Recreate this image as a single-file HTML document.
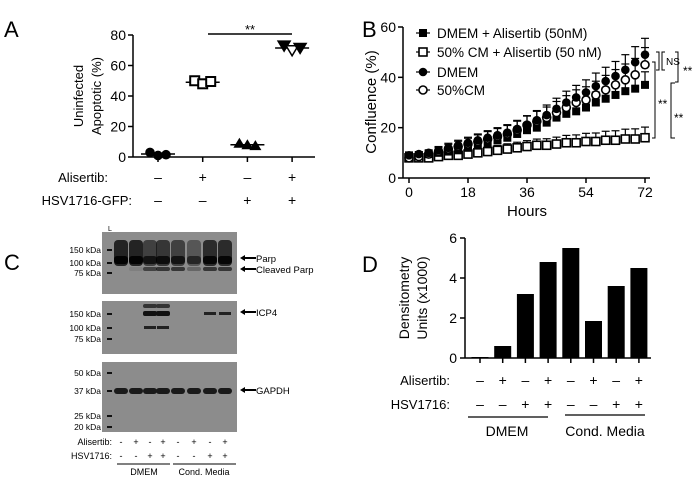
<!DOCTYPE html>
<html><head><meta charset="utf-8"><style>
html,body{margin:0;padding:0;background:#fff;width:700px;height:487px;overflow:hidden}
svg{display:block;font-family:"Liberation Sans",Arial,sans-serif}
</style></head><body>
<svg id="fig" width="700" height="487" viewBox="0 0 700 487" xmlns="http://www.w3.org/2000/svg">
<g id="pA"></g>
<g id="pB"></g>
<g id="pC"></g>
<g id="pD"></g>
</svg>
<script>
// Panel A data
const aCats = [0,1,2,3];
const aPoints = [[3,1,1.5],[50,48,49.5],[9,8,7.5],[73,70,71.5]];
const aMeans = [2,49,8,71.5];
const aTicks = [0,20,40,60,80];
const aAlis = ["–","+","–","+"];
const aHsv = ["–","–","+","+"];
// Panel B data
const bHours = [0,3,6,9,12,15,18,21,24,27,30,33,36,39,42,45,48,51,54,57,60,63,66,69,72];
const bDmemAlis = [9,9,9.5,10,10.5,11,12,13,14,15,16,17.5,19,20,22,24,25.5,26.5,28,30,31.5,33,34.5,35.5,37];
const bCmAlis = [8,8,8,8.5,9,9,9.5,10,10.5,11,11.5,12,12.5,13,13,13.5,14,14,14.5,14.5,15,15,15.5,15.5,16];
const bDmem = [9,9.5,10,11,12,13,14,15,16,17,18,19.5,21,23,25,27.5,30,32,34,36.5,38.5,40.5,43,46,49];
const bCm = [8,8.5,9.5,10.5,11.5,12.5,13.5,14.5,15.5,16.5,17.5,19,21,22.5,24,26,28,30,31,33,35,37,39,41,45];
const bErr = [1,1,1.2,1.5,1.8,2,2.2,2.5,2.8,3,3.2,3.4,3.6,3.8,4,4.2,4.5,4.8,5,5.2,5.5,5.8,6,6.2,6.5];
const bXTicks = [0,18,36,54,72];
const bYTicks = [0,20,40,60];
// Panel D data
const dValues = [0.05,0.6,3.2,4.8,5.5,1.85,3.6,4.5];
const dTicks = [0,2,4,6];
const dAlis = ["–","+","–","+","–","+","–","+"];
const dHsv = ["–","–","+","+","–","–","+","+"];
// Panel C labels
const cAlis = ["-","+","-","+","-","+","-","+"];
const cHsv = ["-","-","+","+","-","-","+","+"];

const NS="http://www.w3.org/2000/svg";
function mk(parent,tag,attrs,text){const e=document.createElementNS(NS,tag);for(const k in attrs)e.setAttribute(k,attrs[k]);if(text!==undefined)e.textContent=text;parent.appendChild(e);return e;}

// ===== Panel A =====
const A=document.getElementById('pA');
const ax=i=>158+i*44.7, ay=v=>157-v*(122/80);
let t=mk(A,'text',{x:4,y:37,'font-size':22},'A');

let l=mk(A,'line',{x1:133,y1:35,x2:133,y2:157,stroke:'#000','stroke-width':1.5});

l=mk(A,'line',{x1:133,y1:157,x2:315,y2:157,stroke:'#000','stroke-width':1.5});

aTicks.forEach(v=>{mk(A,'line',{x1:128,x2:133,y1:ay(v),y2:ay(v),stroke:'#000','stroke-width':1.5});
 t=mk(A,'text',{x:126,y:ay(v)+5,'text-anchor':'end','font-size':14},v);
 });
aCats.forEach(i=>mk(A,'line',{x1:ax(i),x2:ax(i),y1:157,y2:162,stroke:'#000','stroke-width':1.5}));
t=mk(A,'text',{transform:'translate(83,96) rotate(-90)','text-anchor':'middle','font-size':13},'Uninfected');

t=mk(A,'text',{transform:'translate(101,96) rotate(-90)','text-anchor':'middle','font-size':13},'Apoptotic (%)');

aPoints.forEach((pts,i)=>{
 const g=mk(A,'g',{});
 mk(g,'line',{x1:ax(i)-17,x2:ax(i)+17,y1:ay(aMeans[i]),y2:ay(aMeans[i]),stroke:'#000','stroke-width':1.5});
 pts.forEach((v,j)=>{const x=ax(i)-8+j*8,y=ay(v);let m;
  if(i===0)m=mk(g,'circle',{cx:x,cy:y,r:4.8,fill:'#000'});
  else if(i===1)m=mk(g,'rect',{x:x-4.5,y:y-4.5,width:9,height:9,fill:'#fff',stroke:'#000','stroke-width':2});
  else if(i===2)m=mk(g,'path',{d:`M${x-6} ${y+4.5}L${x+6} ${y+4.5}L${x} ${y-5.5}Z`,fill:'#000'});
  else m=mk(g,'path',{d:`M${x-6} ${y-4.5}L${x+6} ${y-4.5}L${x} ${y+5.5}Z`,fill:j===1?'#fff':'#000',stroke:'#000','stroke-width':1.5});
  });
});
l=mk(A,'line',{x1:208,x2:292,y1:34,y2:34,stroke:'#000','stroke-width':1.5});

t=mk(A,'text',{x:250,y:34,'text-anchor':'middle','font-size':13},'**');

t=mk(A,'text',{x:108,y:182,'text-anchor':'end','font-size':13},'Alisertib:');

t=mk(A,'text',{x:132,y:205,'text-anchor':'end','font-size':13},'HSV1716-GFP:');

aCats.forEach(i=>{t=mk(A,'text',{x:ax(i),y:182,'text-anchor':'middle','font-size':14},aAlis[i]);
 
 t=mk(A,'text',{x:ax(i),y:205,'text-anchor':'middle','font-size':14},aHsv[i]);
 });

// ===== Panel B =====
const B=document.getElementById('pB');
const bx=h=>409+h*(236/72), by=v=>178-v*(151/60);
t=mk(B,'text',{x:362,y:37,'font-size':22},'B');

l=mk(B,'line',{x1:403,y1:27,x2:403,y2:178,stroke:'#000','stroke-width':1.5});

l=mk(B,'line',{x1:403,y1:178,x2:650,y2:178,stroke:'#000','stroke-width':1.5});

bYTicks.forEach(v=>{mk(B,'line',{x1:398,x2:403,y1:by(v),y2:by(v),stroke:'#000','stroke-width':1.5});
 t=mk(B,'text',{x:396,y:by(v)+5,'text-anchor':'end','font-size':14},v);
 });
bXTicks.forEach(v=>{mk(B,'line',{x1:bx(v),x2:bx(v),y1:178,y2:183,stroke:'#000','stroke-width':1.5});
 t=mk(B,'text',{x:bx(v),y:197,'text-anchor':'middle','font-size':14},v);
 });
t=mk(B,'text',{x:527,y:216,'text-anchor':'middle','font-size':15},'Hours');

t=mk(B,'text',{transform:'translate(376,102) rotate(-90)','text-anchor':'middle','font-size':15},'Confluence (%)');

function marker(g,kind,x,y){let m;
 if(kind==='fs')m=mk(g,'rect',{x:x-4,y:y-4,width:8,height:8,fill:'#000'});
 else if(kind==='os')m=mk(g,'rect',{x:x-4,y:y-4,width:8,height:8,fill:'#fff',stroke:'#000','stroke-width':1.6});
 else if(kind==='fc')m=mk(g,'circle',{cx:x,cy:y,r:4.3,fill:'#000'});
 else m=mk(g,'circle',{cx:x,cy:y,r:4,fill:'#fff',stroke:'#000','stroke-width':1.6});
 return m;}
const series=[[bCmAlis,'os',0.65],[bDmemAlis,'fs',0.8],[bCm,'oc',1.05],[bDmem,'fc',1.0]];
series.forEach(([vals,kind,ef],si)=>{
 const g=mk(B,'g',{});
 vals.forEach((v,i)=>{const x=bx(bHours[i]),y=by(v),e=bErr[i]*ef;
  const ye=by(v+e);
  mk(g,'line',{x1:x,x2:x,y1:y,y2:ye,stroke:'#000','stroke-width':1.2});
  mk(g,'line',{x1:x-4,x2:x+4,y1:ye,y2:ye,stroke:'#000','stroke-width':1.2});
  const m=marker(g,kind,x,y);
  });
});
const legend=[['fs','DMEM + Alisertib  (50nM)',33],['os','50% CM + Alisertib (50 nM)',52],['fc','DMEM',72],['oc','50%CM',90]];
legend.forEach(([k,txt,y])=>{const g=mk(B,'g',{});
 
 mk(g,'line',{x1:416,x2:430,y1:y,y2:y,stroke:'#000','stroke-width':1.2});marker(g,k,423,y);
 mk(g,'text',{x:437,y:y+5,'font-size':13.5},txt);});
function bracket(x,y1,y2,dir){return mk(B,'path',{d:`M${x-dir*3} ${y1}H${x}V${y2}H${x-dir*3}`,fill:'none',stroke:'#000','stroke-width':1});}
bracket(662,52,70,-1);bracket(659,52,70,1);
l=bracket(678,52,82,1);
t=mk(B,'text',{x:666,y:65,'font-size':10},'NS');
t=mk(B,'text',{x:683,y:75,'font-size':12},'**');
bracket(655,62,138,1);
t=mk(B,'text',{x:658,y:108,'font-size':12},'**');
l=mk(B,'path',{d:'M675 83H671V138H675',fill:'none',stroke:'#000','stroke-width':1});
t=mk(B,'text',{x:674,y:122,'font-size':12},'**');

// ===== Panel C =====
const C=document.getElementById('pC');
const lanes=[121,136,150,163,178,194,210,225];
t=mk(C,'text',{x:4,y:270,'font-size':22},'C');

t=mk(C,'text',{x:108,y:231,'font-size':7},'L');
const blots=[[102,232,135,62,'parp-blot'],[102,301,135,53,'icp4-blot'],[102,362,135,70,'gapdh-blot']];
blots.forEach(b=>{const r=mk(C,'rect',{x:b[0],y:b[1],width:b[2],height:b[3],fill:'#8c8c8c'});
 });
const markers=[['150 kDa',250],['100 kDa',263],['75 kDa',273],['150 kDa',314],['100 kDa',328],['75 kDa',339],['50 kDa',373],['37 kDa',391],['25 kDa',416],['20 kDa',427]];
markers.forEach(([s,y])=>{t=mk(C,'text',{x:101,y:y+3,'text-anchor':'end','font-size':8.5},s);
 
 mk(C,'rect',{x:107,y:y-1,width:5,height:2,fill:'#111'});});
const parpI=[1,1,0.6,0.75,0.6,0.3,0.9,0.9], clvI=[0,0.1,0.6,0.7,0.7,0.3,0.7,0.7];
lanes.forEach((x,i)=>{mk(C,'rect',{x:x-7,y:240,width:14,height:26,rx:4,fill:'#111','fill-opacity':0.25+0.6*parpI[i]});
 mk(C,'rect',{x:x-7,y:256,width:14,height:8,rx:3,fill:'#000','fill-opacity':0.4+0.5*parpI[i]});
 mk(C,'rect',{x:x-7,y:267,width:14,height:4,rx:2,fill:'#111','fill-opacity':clvI[i]});
 mk(C,'rect',{x:x-7,y:388,width:14,height:6,rx:3,fill:'#1a1a1a'});});
[150,163].forEach(x=>{mk(C,'rect',{x:x-7,y:311,width:14,height:5,rx:2,fill:'#111'});mk(C,'rect',{x:x-7,y:304,width:14,height:4,rx:2,fill:'#333'});mk(C,'rect',{x:x-6,y:326,width:12,height:3,fill:'#222'});});
[210,225].forEach(x=>mk(C,'rect',{x:x-6,y:312,width:12,height:3,fill:'#222'}));
const arrows=[['Parp',258],['Cleaved Parp',269],['ICP4',312],['GAPDH',390]];
arrows.forEach(([s,y])=>{const g=mk(C,'g',{});
 mk(g,'path',{d:`M240 ${y}L245 ${y-3}V${y-1}H256V${y+1}H245V${y+3}Z`,fill:'#000'});
 mk(g,'text',{x:256,y:y+4,'font-size':9.5},s);});
t=mk(C,'text',{x:112,y:445,'text-anchor':'end','font-size':9},'Alisertib:');
t=mk(C,'text',{x:112,y:459,'text-anchor':'end','font-size':9},'HSV1716:');
lanes.forEach((x,i)=>{t=mk(C,'text',{x:x,y:445,'text-anchor':'middle','font-size':9},cAlis[i]);
 t=mk(C,'text',{x:x,y:459,'text-anchor':'middle','font-size':9},cHsv[i]);});
mk(C,'line',{x1:117,x2:170,y1:464,y2:464,stroke:'#000'});mk(C,'line',{x1:173,x2:236,y1:464,y2:464,stroke:'#000'});
t=mk(C,'text',{x:144,y:475,'text-anchor':'middle','font-size':9},'DMEM');
t=mk(C,'text',{x:204,y:475,'text-anchor':'middle','font-size':9},'Cond. Media');

// ===== Panel D =====
const D=document.getElementById('pD');
const dx=i=>480+i*22.7, dy=v=>358-v*20;
t=mk(D,'text',{x:362,y:272,'font-size':22},'D');
l=mk(D,'line',{x1:465,y1:238,x2:465,y2:358,stroke:'#000','stroke-width':1.5});
dTicks.forEach(v=>{mk(D,'line',{x1:460,x2:465,y1:dy(v),y2:dy(v),stroke:'#000','stroke-width':1.5});
 t=mk(D,'text',{x:457,y:dy(v)+5,'text-anchor':'end','font-size':14},v);});
t=mk(D,'text',{transform:'translate(409,298) rotate(-90)','text-anchor':'middle','font-size':14},'Densitometry');
t=mk(D,'text',{transform:'translate(427,298) rotate(-90)','text-anchor':'middle','font-size':14},'Units (x1000)');
dValues.forEach((v,i)=>{const r=mk(D,'rect',{x:dx(i)-8.5,y:dy(v),width:17,height:358-dy(v),fill:'#000'});
 
 mk(D,'line',{x1:dx(i),x2:dx(i),y1:358,y2:363,stroke:'#000','stroke-width':1.5});
 t=mk(D,'text',{x:dx(i),y:385,'text-anchor':'middle','font-size':14},dAlis[i]);
 t=mk(D,'text',{x:dx(i),y:409,'text-anchor':'middle','font-size':14},dHsv[i]);});
l=mk(D,'line',{x1:465,y1:358,x2:651,y2:358,stroke:'#000','stroke-width':1.5});
t=mk(D,'text',{x:450,y:385,'text-anchor':'end','font-size':13},'Alisertib:');
t=mk(D,'text',{x:450,y:409,'text-anchor':'end','font-size':13},'HSV1716:');
mk(D,'line',{x1:468,x2:548,y1:417,y2:417,stroke:'#000','stroke-width':1.2});mk(D,'line',{x1:565,x2:645,y1:415,y2:415,stroke:'#000','stroke-width':1.2});
t=mk(D,'text',{x:507,y:436,'text-anchor':'middle','font-size':14},'DMEM');
t=mk(D,'text',{x:605,y:436,'text-anchor':'middle','font-size':14},'Cond. Media');
</script>
</body></html>
